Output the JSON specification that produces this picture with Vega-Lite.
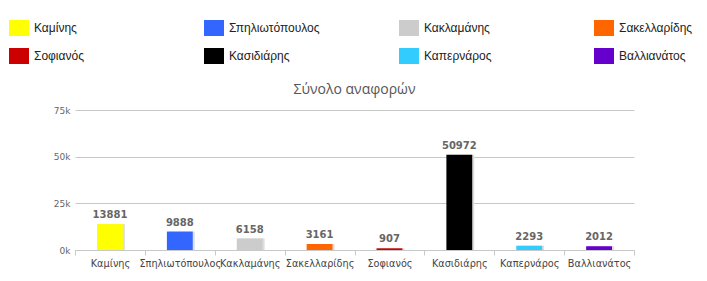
{
  "$schema": "https://vega.github.io/schema/vega-lite/v6.json",
  "width": 559,
  "height": 140,
  "autosize": {"type": "none"},
  "padding": {"left": 75, "top": 110, "right": 73, "bottom": 31},
  "background": "white",
  "view": {"stroke": null},
  "title": {
    "text": "Σύνολο αναφορών",
    "font": "Open Sans",
    "fontSize": 14,
    "fontWeight": "normal",
    "color": "#555555",
    "anchor": "middle",
    "frame": "group",
    "offset": 12,
    "dy": 91
  },
  "data": {
    "values": [
      {"name": "Καμίνης", "value": 13881},
      {"name": "Σπηλιωτόπουλος", "value": 9888},
      {"name": "Κακλαμάνης", "value": 6158},
      {"name": "Σακελλαρίδης", "value": 3161},
      {"name": "Σοφιανός", "value": 907},
      {"name": "Κασιδιάρης", "value": 50972},
      {"name": "Καπερνάρος", "value": 2293},
      {"name": "Βαλλιανάτος", "value": 2012}
    ]
  },
  "encoding": {
    "x": {
      "field": "name",
      "type": "nominal",
      "sort": null,
      "title": null,
      "scale": {"paddingInner": 0, "paddingOuter": 0},
      "axis": {
        "labelAngle": 0,
        "labelFont": "DejaVu Sans",
        "labelFontSize": 9.7,
        "labelColor": "#444444",
        "labelPadding": 3,
        "labelLimit": 200,
        "labelOverlap": false,
        "domainColor": "#c8c8c8",
        "tickColor": "#c8c8c8",
        "tickSize": 5,
        "tickBand": "extent",
        "grid": false
      }
    },
    "y": {
      "field": "value",
      "type": "quantitative",
      "title": null,
      "scale": {"domain": [0, 75000], "nice": false},
      "axis": {
        "values": [0, 25000, 50000, 75000],
        "labelExpr": "datum.value / 1000 + 'k'",
        "labelFont": "DejaVu Sans",
        "labelFontSize": 9,
        "labelColor": "#666666",
        "labelPadding": 5,
        "domain": false,
        "ticks": false,
        "gridColor": "#c8c8c8",
        "gridWidth": 1
      }
    }
  },
  "layer": [
    {
      "mark": {"type": "bar", "xOffset": 2, "width": {"band": 0.37}, "color": "#dddddd"}
    },
    {
      "mark": {"type": "bar", "width": {"band": 0.37}, "opacity": 1},
      "encoding": {
        "color": {
          "field": "name",
          "type": "nominal",
          "sort": null,
          "scale": {
            "domain": ["Καμίνης", "Σπηλιωτόπουλος", "Κακλαμάνης", "Σακελλαρίδης", "Σοφιανός", "Κασιδιάρης", "Καπερνάρος", "Βαλλιανάτος"],
            "range": ["#ffff00", "#3366ff", "#cccccc", "#ff6600", "#cc0000", "#000000", "#33ccff", "#6600cc"]
          },
          "legend": {
            "title": null,
            "orient": "none",
            "legendX": -66,
            "legendY": -92,
            "direction": "horizontal",
            "columns": 4,
            "gridAlign": "all",
            "columnPadding": 79,
            "rowPadding": 10,
            "symbolType": "M-1,-0.8H1V0.8H-1Z",
            "symbolSize": 400,
            "symbolStrokeWidth": 0,
            "symbolOpacity": 1,
            "labelFont": "Liberation Sans",
            "labelFontSize": 12,
            "labelColor": "#222222",
            "labelOffset": 5,
            "labelLimit": 300,
            "padding": 0
          }
        }
      }
    },
    {
      "mark": {
        "type": "text",
        "dy": -4,
        "baseline": "bottom",
        "font": "DejaVu Sans",
        "fontSize": 10,
        "fontWeight": "bold",
        "color": "#666666"
      },
      "encoding": {"text": {"field": "value", "type": "quantitative", "format": "d"}}
    }
  ]
}
